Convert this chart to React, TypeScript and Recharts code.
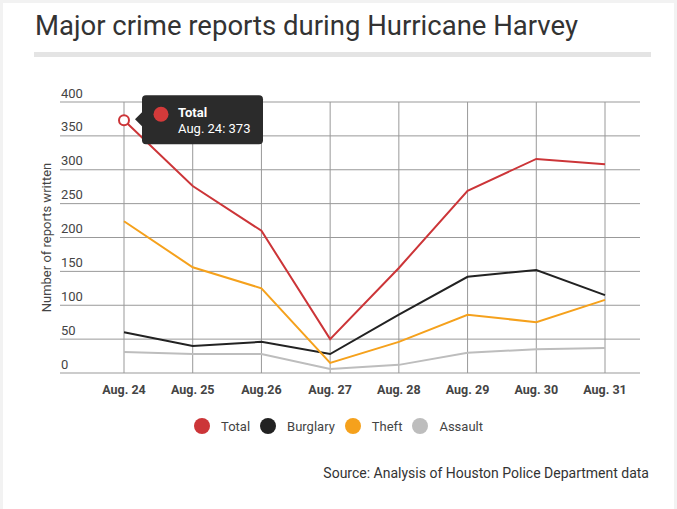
import {
  LineChart,
  Line,
  XAxis,
  YAxis,
  CartesianGrid,
  Legend,
  LabelList,
} from "recharts";

const days = ["Aug. 24", "Aug. 25", "Aug.26", "Aug. 27", "Aug. 28", "Aug. 29", "Aug. 30", "Aug. 31"];
const total = [373, 276, 210, 50, 155, 269, 316, 308];
const burglary = [60, 40, 46, 28, 86, 142, 152, 115];
const theft = [224, 156, 125, 15, 46, 86, 75, 108];
const assault = [31, 28, 28, 6, 12, 30, 35, 37];
const yTicks = [0, 50, 100, 150, 200, 250, 300, 350, 400];

const series = [
  { key: "total", name: "Total", color: "#cc3538", values: total },
  { key: "burglary", name: "Burglary", color: "#222222", values: burglary },
  { key: "theft", name: "Theft", color: "#f5a11c", values: theft },
  { key: "assault", name: "Assault", color: "#bdbdbd", values: assault },
];

const rows = days.map((day, i) => {
  const row: Record<string, string | number> = { day };
  series.forEach((s) => (row[s.key] = s.values[i]));
  return row;
});

const font = "Roboto, 'Noto Sans', sans-serif";

function YTick(props: any) {
  const { x, y, payload } = props;
  return (
    <text x={x + 1} y={y - 9} dy="0.35em" textAnchor="start" fill="#444" fontSize={13} fontFamily={font}>
      {payload.value}
    </text>
  );
}

function YLabel(props: any) {
  const { viewBox } = props;
  const cx = viewBox.x + viewBox.width - 14;
  const cy = viewBox.y + viewBox.height / 2;
  return (
    <text
      x={cx}
      y={cy}
      transform={`rotate(-90 ${cx} ${cy})`}
      textAnchor="middle"
      dominantBaseline="central"
      fill="#444"
      fontSize={13}
      fontFamily={font}
    >
      Number of reports written
    </text>
  );
}

function TipLabel(props: any) {
  const { x, y, index, value } = props;
  if (index !== 0) return null;
  const bx = x + 18;
  const by = y - 25;
  return (
    <g>
      <rect x={bx} y={by} width={121} height={49} rx={4} fill="#2b2b2b" />
      <path d={`M${bx} ${y - 8} L${x + 11} ${y - 1} L${bx} ${y + 6} Z`} fill="#2b2b2b" />
      <circle cx={bx + 19} cy={by + 19} r={7.5} fill="#d43a3a" />
      <text x={bx + 36} y={by + 22} fill="#fff" fontSize={13} fontWeight={700} fontFamily={font}>
        Total
      </text>
      <text x={bx + 36} y={by + 38} fill="#fff" fontSize={13} fontFamily={font}>
        {`${days[0]}: ${value}`}
      </text>
    </g>
  );
}

function TotalDot(props: any) {
  const { cx, cy, index } = props;
  if (index !== 0) return <g key={index} />;
  return <circle key={index} cx={cx} cy={cy} r={5} fill="#fff" stroke="#cc3538" strokeWidth={2} />;
}

function LegendContent(props: any) {
  const { payload } = props;
  const order = series.map((s) => s.name);
  const items = [...payload].sort((a: any, b: any) => order.indexOf(a.value) - order.indexOf(b.value));
  return (
    <div style={{ display: "flex", justifyContent: "center", alignItems: "center", gap: 10, fontFamily: font }}>
      {items.map((p: any) => (
        <div key={p.value} style={{ display: "flex", alignItems: "center" }}>
          <span
            style={{
              width: 16,
              height: 16,
              borderRadius: 8,
              background: p.color,
              display: "inline-block",
              marginRight: 11,
            }}
          />
          <span style={{ fontSize: 13, color: "#444" }}>{p.value}</span>
        </div>
      ))}
    </div>
  );
}

export default function App() {
  return (
    <div style={{ position: "absolute", top: 0, left: 0, width: 677, height: 509, background: "#f2f2f2" }}>
      <div style={{ position: "absolute", top: 3, left: 3, width: 671, height: 506, background: "#fff" }} />
      <div
        style={{
          position: "absolute",
          top: 7,
          left: 35,
          fontFamily: font,
          fontSize: 27.5,
          color: "#333",
          lineHeight: "38px",
          whiteSpace: "nowrap",
        }}
      >
        Major crime reports during Hurricane Harvey
      </div>
      <div style={{ position: "absolute", top: 52, left: 34, width: 617, height: 5, background: "#e4e4e4" }} />
      <div style={{ position: "absolute", top: 0, left: 0 }}>
        <LineChart width={677} height={509} data={rows} margin={{ top: 102, right: 37, bottom: 106, left: 0 }}>
          <CartesianGrid stroke="#999" strokeWidth={1} syncWithTicks />
          <XAxis
            dataKey="day"
            height={30}
            padding={{ left: 64, right: 35 }}
            axisLine={false}
            tickLine={false}
            tickMargin={6}
            tick={{ fill: "#444", fontSize: 12.5, fontWeight: 700, fontFamily: font }}
            interval={0}
          />
          <YAxis
            domain={[0, 400]}
            ticks={yTicks}
            width={60}
            axisLine={false}
            tickLine={false}
            tickSize={0}
            tickMargin={0}
            tick={<YTick />}
            label={<YLabel />}
            interval={0}
          />
          <Legend
            verticalAlign="middle"
            align="center"
            layout="horizontal"
            content={<LegendContent />}
            wrapperStyle={{ top: 418, left: 0, width: 677 }}
          />
          {series.map((s) => (
            <Line
              key={s.key}
              type="linear"
              dataKey={s.key}
              name={s.name}
              stroke={s.color}
              strokeWidth={2}
              dot={s.key === "total" ? <TotalDot /> : false}
              activeDot={false}
              isAnimationActive={false}
            >
              {s.key === "total" && <LabelList dataKey="total" content={<TipLabel />} />}
            </Line>
          ))}
        </LineChart>
      </div>
      <div
        style={{
          position: "absolute",
          top: 465,
          right: 28,
          fontFamily: font,
          fontSize: 14,
          color: "#333",
          whiteSpace: "nowrap",
        }}
      >
        Source: Analysis of Houston Police Department data
      </div>
    </div>
  );
}
